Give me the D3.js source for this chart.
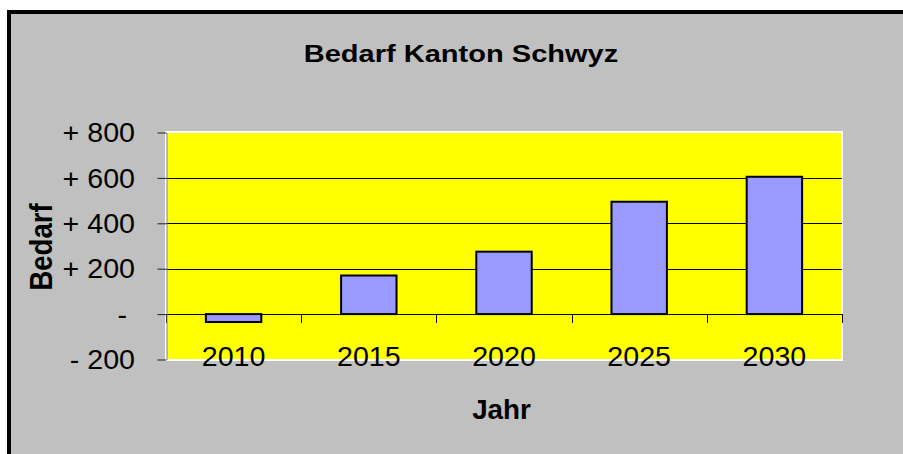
<!DOCTYPE html>
<html>
<head>
<meta charset="utf-8">
<script src="https://cdn.jsdelivr.net/npm/d3@7/dist/d3.min.js"></script>
<style>
  body { margin: 0; background: #fff; }
  text { font-family: "Liberation Sans", Arial, sans-serif; fill: #000; }
</style>
</head>
<body>
<div id="chart"></div>
<script>
var years = ["2010", "2015", "2020", "2025", "2030"];
var bedarf = [-35, 170, 275, 495, 605];
var yTicks = [-200, 0, 200, 400, 600, 800];
var gridTicks = [0, 200, 400, 600];
var titleText = "Bedarf Kanton Schwyz";
var xTitle = "Jahr";
var yTitle = "Bedarf";

var W = 903, H = 454;
var plot = {left: 166, right: 842, top: 132.5, bottom: 359.5};

var svg = d3.select("#chart").append("svg")
    .attr("width", W)
    .attr("height", H);

// chart area with black frame (runs off the right/bottom edge)
svg.append("rect")
    .attr("x", 9).attr("y", 12)
    .attr("width", 960).attr("height", 500)
    .attr("fill", "#c0c0c0")
    .attr("stroke", "#000")
    .attr("stroke-width", 4);

// plot area
svg.append("rect")
    .attr("x", plot.left).attr("y", plot.top - 0.5)
    .attr("width", plot.right - plot.left).attr("height", plot.bottom - plot.top + 1)
    .attr("fill", "#ffff00")
    .attr("stroke", "#fff")
    .attr("stroke-width", 2);

var x = d3.scaleBand()
    .domain(years)
    .range([plot.left, plot.right])
    .paddingInner(0.59)
    .paddingOuter(0.295);

var xCat = d3.scaleBand()
    .domain(years)
    .range([plot.left, plot.right]);

var y = d3.scaleLinear()
    .domain([-200, 800])
    .range([plot.bottom, plot.top]);

// gridlines
svg.selectAll(".grid")
    .data(gridTicks)
    .enter().append("line")
    .attr("class", "grid")
    .attr("x1", plot.left).attr("x2", plot.right)
    .attr("y1", function(d) { return Math.round(y(d)) + 0.5; })
    .attr("y2", function(d) { return Math.round(y(d)) + 0.5; })
    .attr("stroke", "#000")
    .attr("stroke-width", 1);

// bars
svg.selectAll(".bar")
    .data(bedarf)
    .enter().append("rect")
    .attr("class", "bar")
    .attr("x", function(d, i) { return x(years[i]); })
    .attr("y", function(d) { return y(Math.max(0, d)); })
    .attr("width", x.bandwidth())
    .attr("height", function(d) { return Math.abs(y(d) - y(0)); })
    .attr("fill", "#9999ff")
    .attr("stroke", "#000")
    .attr("stroke-width", 2);

// category boundary ticks on the zero line
var bounds = years.map(function(d) { return xCat(d); }).concat([plot.right]);
svg.selectAll(".ctick")
    .data(bounds)
    .enter().append("line")
    .attr("class", "ctick")
    .attr("x1", function(d) { return Math.round(d) + 0.5; })
    .attr("x2", function(d) { return Math.round(d) + 0.5; })
    .attr("y1", Math.round(y(0)))
    .attr("y2", Math.round(y(0)) + 9)
    .attr("stroke", "#000");

// y axis
var fmt = function(d) {
    if (d > 0) return "+ " + d;
    if (d < 0) return "- " + (-d);
    return "-\u00A0";
};
var yAxis = d3.axisLeft(y)
    .tickValues(yTicks)
    .tickSize(9)
    .tickSizeOuter(0)
    .tickFormat(fmt);

var gy = svg.append("g")
    .attr("transform", "translate(" + (plot.left + 0.5) + ",0)")
    .call(yAxis);
gy.select(".domain").attr("stroke", "#808080");
gy.selectAll(".tick line").attr("stroke", "#222");
gy.selectAll(".tick text")
    .attr("x", 0)
    .attr("dy", "0.34em")
    .attr("transform", "translate(-31.5,0) scale(1.06,1)")
    .style("font-size", "27px")
    .style("font-family", "'Liberation Sans', Arial, sans-serif")
    .attr("fill", "#000");

// x labels
svg.selectAll(".xlab")
    .data(years)
    .enter().append("text")
    .attr("class", "xlab")
    .attr("transform", function(d) {
        return "translate(" + (x(d) + x.bandwidth() / 2) + ",365.5) scale(1.06,1)";
    })
    .attr("text-anchor", "middle")
    .style("font-size", "27px")
    .text(function(d) { return d; });

// title
svg.append("text")
    .attr("transform", "translate(461,62) scale(1.21,1)")
    .attr("text-anchor", "middle")
    .style("font-size", "24px")
    .style("font-weight", "bold")
    .text(titleText);

// axis titles
svg.append("text")
    .attr("transform", "translate(501.5,419.3) scale(1.03,1)")
    .attr("text-anchor", "middle")
    .style("font-size", "27px")
    .style("font-weight", "bold")
    .text(xTitle);

svg.append("text")
    .attr("transform", "translate(52,247) rotate(-90) scale(1,1.16)")
    .attr("text-anchor", "middle")
    .style("font-size", "27.5px")
    .style("font-weight", "bold")
    .text(yTitle);
</script>
</body>
</html>
